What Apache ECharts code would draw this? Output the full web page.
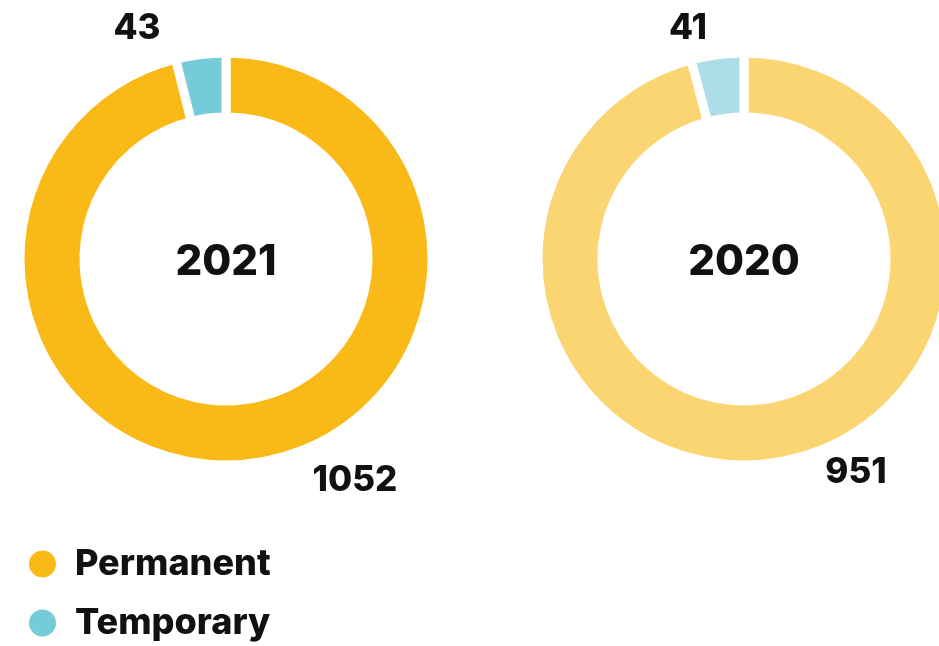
<!DOCTYPE html>
<html>
<head>
<meta charset="utf-8">
<script src="https://cdn.jsdelivr.net/npm/echarts@6/dist/echarts.min.js"></script>
<style>
  html, body { margin: 0; padding: 0; background: #fff; }
  #chart { width: 939px; height: 646px; }
</style>
</head>
<body>
<div id="chart"></div>
<script>
// data
var categories = ['Permanent', 'Temporary'];
var years = ['2021', '2020'];
var values2021 = [1052, 43];
var values2020 = [951, 41];
var colors2021 = ['#F9B916', '#76CBDB'];
var colors2020 = ['#FCD573', '#ADDDE8'];

var FONT = 'Inter';
var chart = echarts.init(document.getElementById('chart'));

// where the value labels sit (per donut, per slice)
var labelSpots = [
  [[355, 480], [137, 28]],
  [[856, 472], [688, 28]]
];

function makePie(idx, values, colors, cx) {
  return {
    type: 'pie',
    center: [cx, 259],
    radius: [142, 206],
    startAngle: 90,
    clockwise: true,
    avoidLabelOverlap: false,
    itemStyle: { borderColor: '#fff', borderWidth: 9 },
    emphasis: { disabled: true },
    label: {
      show: true,
      position: 'outside',
      formatter: '{c}',
      fontFamily: FONT,
      fontWeight: 800,
      fontSize: 35,
      color: '#111'
    },
    labelLine: { show: false },
    labelLayout: function (p) {
      var s = labelSpots[idx][p.dataIndex];
      return { x: s[0], y: s[1], align: 'center', verticalAlign: 'middle' };
    },
    data: categories.map(function (c, i) {
      return { name: c, value: values[i], itemStyle: { color: colors[i] } };
    })
  };
}

var option = {
  backgroundColor: '#fff',
  animation: false,
  title: years.map(function (y, i) {
    return {
      text: y,
      left: i === 0 ? 226 : 744,
      top: 262,
      padding: 0,
      textAlign: 'center',
      textVerticalAlign: 'middle',
      textStyle: { fontFamily: FONT, fontWeight: 800, fontSize: 42, color: '#111' }
    };
  }),
  legend: {
    orient: 'vertical',
    left: 27,
    top: 546,
    height: 200,
    padding: 0,
    icon: 'circle',
    itemWidth: 29,
    itemHeight: 29,
    itemGap: 23,
    data: categories,
    textStyle: { fontFamily: FONT, fontWeight: 800, fontSize: 36, lineHeight: 33, color: '#111', padding: [0, 0, 0, 13] }
  },
  series: [
    makePie(0, values2021, colors2021, 226),
    makePie(1, values2020, colors2020, 744)
  ]
};
chart.setOption(option);
</script>
</body>
</html>
